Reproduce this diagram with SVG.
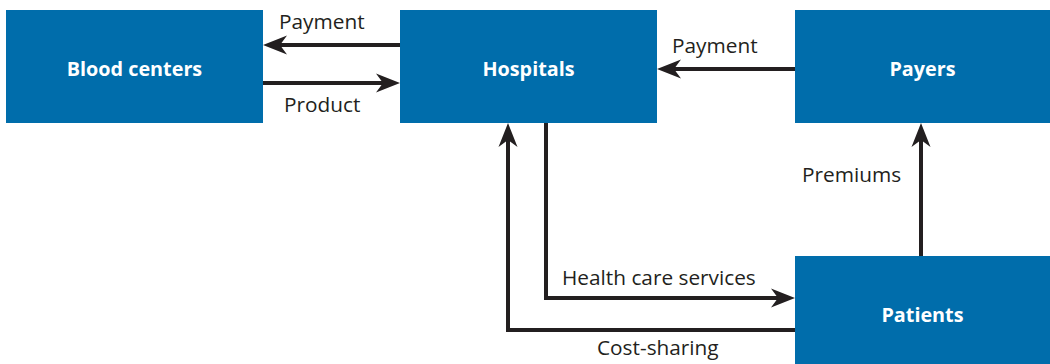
<svg xmlns="http://www.w3.org/2000/svg" width="1050" height="364" viewBox="0 0 1050 364">
  <defs>
    <style>
      .box { fill: #006dab; }
      .boxlabel { font-family: "Open Sans", "Liberation Sans", sans-serif; font-weight: bold; font-size: 19.8px; fill: #ffffff; text-anchor: middle; }
      .flow { fill: none; stroke: #231f20; stroke-width: 4; marker-end: url(#head); }
      .flowlabel { font-family: "Open Sans", "Liberation Sans", sans-serif; font-size: 20.8px; fill: #231f20; }
    </style>
    <!-- barbed arrowhead; path end sits 10px behind the tip -->
    <marker id="head" markerUnits="userSpaceOnUse" viewBox="-24 -10 24 20" refX="-10" refY="0" markerWidth="24" markerHeight="20" orient="auto">
      <path d="M0,0 L-24,-9.5 L-17,0 L-24,9.5 Z" fill="#231f20"/>
    </marker>
  </defs>

  <g id="connectors">
    <!-- Hospitals -> Blood centers: payment -->
    <path class="flow" d="M400,45 H273"/>
    <!-- Blood centers -> Hospitals: product -->
    <path class="flow" d="M263,83 H390"/>
    <!-- Payers -> Hospitals: payment -->
    <path class="flow" d="M795,69 H667"/>
    <!-- Patients -> Payers: premiums -->
    <path class="flow" d="M921,256 V133"/>
    <!-- Hospitals -> Patients: health care services -->
    <path class="flow" d="M546,123 V298 H785"/>
    <!-- Patients -> Hospitals: cost-sharing -->
    <path class="flow" d="M795,330 H508 V133"/>

    <text class="flowlabel" x="279" y="29">Payment</text>
    <text class="flowlabel" x="284" y="112">Product</text>
    <text class="flowlabel" x="672" y="53">Payment</text>
    <text class="flowlabel" x="802" y="182">Premiums</text>
    <text class="flowlabel" x="562" y="285">Health care services</text>
    <text class="flowlabel" x="597" y="355">Cost-sharing</text>
  </g>

  <g id="blood-centers">
    <rect class="box" x="6" y="10" width="257" height="113"/>
    <text class="boxlabel" x="134.5" y="76">Blood centers</text>
  </g>
  <g id="hospitals">
    <rect class="box" x="400" y="10" width="257" height="113"/>
    <text class="boxlabel" x="528.5" y="76">Hospitals</text>
  </g>
  <g id="payers">
    <rect class="box" x="795" y="10" width="255" height="113"/>
    <text class="boxlabel" x="922.5" y="76">Payers</text>
  </g>
  <g id="patients">
    <rect class="box" x="795" y="256" width="255" height="108"/>
    <text class="boxlabel" x="922.5" y="322">Patients</text>
  </g>
</svg>
